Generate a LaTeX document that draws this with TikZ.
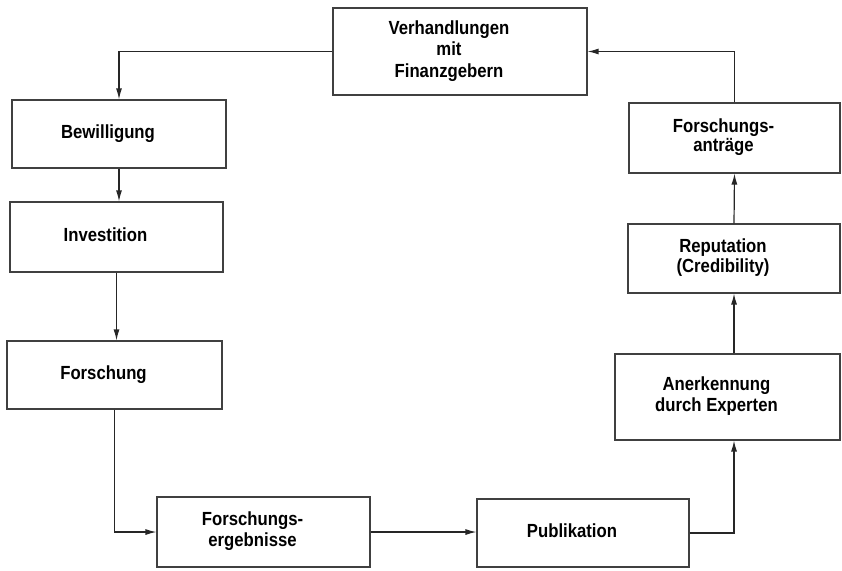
\documentclass[tikz,border=0pt]{standalone}
\usepackage{fontspec}
\setmainfont[FakeStretch=0.88]{Liberation Sans}
\usetikzlibrary{arrows.meta}
\newcommand\boxtext[1]{\hspace*{-22pt}\begin{tabular}{@{}c@{}}#1\end{tabular}}
\begin{document}
\begin{tikzpicture}[x=1pt,y=-1pt,
  box/.style={draw=black!75,line width=1.1pt,inner sep=0pt,
    font=\fontsize{19}{20.5}\selectfont\bfseries},
  arr/.style={draw=black!85,line width=1.2pt,-{Latex[length=11pt,width=6pt]}}]
\useasboundingbox (0,0) rectangle (842,570);
\node[box,minimum width=254pt,minimum height=87pt] (verh) at (460,51.5)
  {\boxtext{Verhandlungen\\[1pt]mit\\[1pt]Finanzgebern}};
\node[box,minimum width=214pt,minimum height=68pt] (bew) at (119,134) {\boxtext{Bewilligung}};
\node[box,minimum width=213pt,minimum height=70pt] (inv) at (116.5,237) {\boxtext{Investition}};
\node[box,minimum width=215pt,minimum height=68pt] (fors) at (114.5,375) {\boxtext{Forschung}};
\node[box,minimum width=213pt,minimum height=70pt] (erg) at (263.5,532) {\boxtext{Forschungs-\\ergebnisse}};
\node[box,minimum width=212pt,minimum height=68pt] (pub) at (583,533) {\boxtext{Publikation}};
\node[box,minimum width=225pt,minimum height=86pt] (anerk) at (727.5,397) {\boxtext{Anerkennung\\durch Experten}};
\node[box,minimum width=212pt,minimum height=69pt] (rep) at (734,258.5) {\boxtext{Reputation\\(Credibility)}};
\node[box,minimum width=211pt,minimum height=70pt] (antr) at (734.5,138) {\boxtext{Forschungs-\\[-1pt]anträge}};
\draw[arr] (verh.west) -| (bew.north);
\draw[arr] (bew.south) -- (bew.south |- inv.north);
\draw[arr] (inv.south) -- (inv.south |- fors.north);
\draw[arr] (fors.south) |- (erg.west);
\draw[arr] (erg.east) -- (erg.east -| pub.west);
\draw[arr] (pub.east) -| (rep.south |- anerk.south);
\draw[arr] (rep.south |- anerk.north) -- (rep.south);
\draw[arr] (rep.north) -- (antr.south);
\draw[arr] (antr.north) |- (verh.east);
\end{tikzpicture}
\end{document}
